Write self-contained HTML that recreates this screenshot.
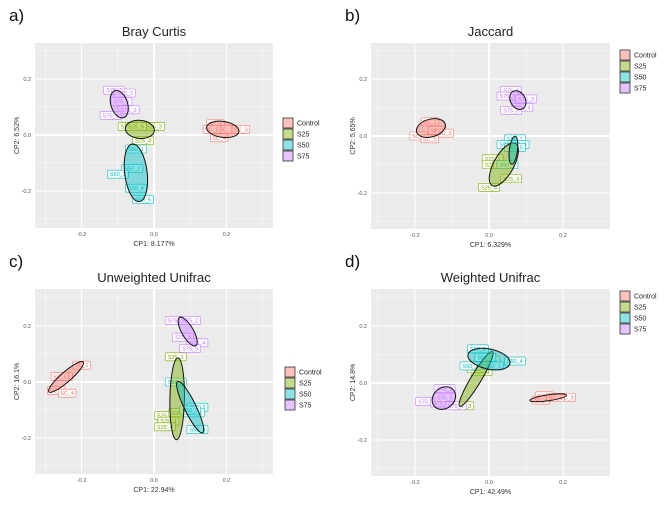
<!DOCTYPE html>
<html><head><meta charset="utf-8"><style>
html,body{margin:0;padding:0;background:#fff;}
svg{display:block;font-family:"Liberation Sans",sans-serif;}
</style></head><body>
<svg id="fig" width="669" height="506" viewBox="0 0 669 506" xmlns="http://www.w3.org/2000/svg"></svg>
<script>
const groups = ["Control","S25","S50","S75"];
const groupColors = ["#F8766D","#7CAE00","#00BFC4","#C77CFF"];
const tickValues = [-0.2,0,0.2];
const tickLabels = ["-0.2","0.0","0.2"];
const panelTitles = ["Bray Curtis","Jaccard","Unweighted Unifrac","Weighted Unifrac"];
const panelLetters = ["a)","b)","c)","d)"];
const xAxisTitles = ["CP1: 8.177%","CP1: 6.329%","CP1: 22.94%","CP1: 42.49%"];
const yAxisTitles = ["CP2: 6.52%","CP2: 5.65%","CP2: 16.1%","CP2: 14.8%"];
// ellipses per panel: [cx, cy, semiMajor, semiMinor, angleDeg] per group order
const ellipsesA = [[0.19,0.02,0.045,0.022,8],[-0.039,0.02,0.04,0.025,5],[-0.05,-0.135,0.08,0.031,83],[-0.096,0.11,0.039,0.023,72]];
const ellipsesB = [[-0.157,0.028,0.04,0.024,-15],[0.04,-0.10,0.065,0.027,-61],[0.066,-0.05,0.038,0.011,-83],[0.078,0.126,0.027,0.02,60]];
const ellipsesC = [[-0.243,0.018,0.063,0.014,-41],[0.064,-0.06,0.113,0.02,91],[0.1,-0.09,0.079,0.016,64],[0.093,0.18,0.045,0.016,60]];
const ellipsesD = [[0.16,-0.052,0.05,0.008,-8],[-0.035,0.014,0.086,0.014,-59],[0.0,0.084,0.058,0.027,12],[-0.122,-0.053,0.034,0.028,-40]];
// sample points per panel per group: [x,y]
const pointsA = [[[0.17,0.04],[0.2,0.02],[0.24,0.02],[0.18,-0.01],[0.16,0.02]],[[-0.07,0.03],[-0.02,0.03],[0.0,0.03],[-0.03,-0.02],[-0.05,0.03]],[[-0.05,-0.05],[-0.06,-0.12],[-0.1,-0.14],[-0.05,-0.19],[-0.03,-0.23]],[[-0.11,0.16],[-0.08,0.15],[-0.07,0.09],[-0.12,0.07],[-0.09,0.12]]];
const pointsB = [[[-0.16,0.05],[-0.14,0.02],[-0.12,0.01],[-0.19,0.0],[-0.16,-0.01]],[[0.01,-0.08],[0.01,-0.1],[0.06,-0.15],[0.0,-0.18],[0.04,-0.1]],[[0.07,-0.01],[0.05,-0.03],[0.08,-0.03],[0.05,-0.1],[0.07,-0.04]],[[0.06,0.16],[0.05,0.14],[0.1,0.13],[0.09,0.1],[0.06,0.09]]];
const pointsC = [[[-0.2,0.06],[-0.25,0.02],[-0.27,-0.03],[-0.24,-0.04],[-0.26,0.02]],[[0.06,0.09],[0.03,-0.12],[0.04,-0.14],[0.03,-0.16],[0.07,-0.11]],[[0.06,0.0],[0.12,-0.09],[0.11,-0.11],[0.12,-0.17],[0.1,-0.1]],[[0.06,0.22],[0.1,0.22],[0.08,0.16],[0.12,0.14],[0.1,0.12]]];
const pointsD = [[[0.15,-0.045],[0.2,-0.05],[0.21,-0.05],[0.14,-0.06],[0.18,-0.05]],[[-0.02,0.04],[-0.01,0.09],[-0.07,-0.08],[-0.03,0.05],[0.0,0.08]],[[-0.03,0.12],[-0.05,0.06],[0.01,0.06],[0.07,0.077],[-0.01,0.09]],[[-0.12,-0.02],[-0.17,-0.065],[-0.13,-0.07],[-0.09,-0.08],[-0.12,-0.05]]];
const allEllipses=[ellipsesA,ellipsesB,ellipsesC,ellipsesD];
const allPoints=[pointsA,pointsB,pointsC,pointsD];
const panels=[
 {ox:0,oy:0,l:35,r:273,t:43,b:228,x0:154,y0:135,sx:362,sy:280,lx:283,ly:118},
 {ox:0,oy:0,l:371,r:610,t:43,b:229,x0:489,y0:136,sx:370,sy:285,lx:620,ly:50},
 {ox:0,oy:0,l:35,r:273,t:289,b:474,x0:154,y0:382,sx:362,sy:280,lx:285,ly:367},
 {ox:0,oy:0,l:371,r:610,t:289,b:476,x0:489,y0:383,sx:370,sy:285,lx:620,ly:291}];
const NS="http://www.w3.org/2000/svg";
const svg=document.getElementById('fig');
function mk(tag,attrs,parent,txt){const e=document.createElementNS(NS,tag);for(const k in attrs)e.setAttribute(k,attrs[k]);if(txt!==undefined)e.textContent=txt;parent.appendChild(e);return e;}
panels.forEach((p,i)=>{
 const g=mk('g',{},svg);
 
 
 const X=v=>p.x0+v*p.sx, Y=v=>p.y0-v*p.sy;
 const pl=mk('text',{x:p.l-26,y:p.t-22,'font-size':17,fill:'#111'},g,panelLetters[i]);
 
 
 const ti=mk('text',{x:(p.l+p.r)/2,y:p.t-7,'font-size':13,'text-anchor':'middle',fill:'#222'},g,panelTitles[i]);
 
 
 const bg=mk('rect',{x:p.l,y:p.t,width:p.r-p.l,height:p.b-p.t,fill:'#EBEBEB'},g);
 
 
 [-0.3,-0.1,0.1,0.3].forEach(v=>{
  if(X(v)>p.l&&X(v)<p.r)mk('line',{x1:X(v),x2:X(v),y1:p.t,y2:p.b,stroke:'#fff','stroke-width':0.5,opacity:0.8},g);
  if(Y(v)>p.t&&Y(v)<p.b)mk('line',{y1:Y(v),y2:Y(v),x1:p.l,x2:p.r,stroke:'#fff','stroke-width':0.5,opacity:0.8},g);
 });
 tickValues.forEach((v,k)=>{
  const w=v===0?2:1;
  mk('line',{x1:X(v),x2:X(v),y1:p.t,y2:p.b,stroke:'#fff','stroke-width':w},g);
  mk('line',{y1:Y(v),y2:Y(v),x1:p.l,x2:p.r,stroke:'#fff','stroke-width':w},g);
  const tx=mk('text',{x:X(v),y:p.b+8,'font-size':5.5,'text-anchor':'middle',fill:'#555'},g,tickLabels[k]);
  
  
  const ty=mk('text',{x:p.l-4,y:Y(v)+2,'font-size':5.5,'text-anchor':'end',fill:'#555'},g,tickLabels[k]);
  
  
 });
 const xt=mk('text',{x:(p.l+p.r)/2,y:p.b+18,'font-size':7,'text-anchor':'middle',fill:'#333'},g,xAxisTitles[i]);
 
 
 const yt=mk('text',{x:0,y:0,'font-size':7,'text-anchor':'middle',fill:'#333',transform:`translate(${p.l-16},${(p.t+p.b)/2}) rotate(-90)`},g,yAxisTitles[i]);
 
 
 // points labels
 allPoints[i].forEach((pts,gi)=>{
  pts.forEach((pt,k)=>{
   const lab=groups[gi]==='Control'?'SC_'+(k+1):groups[gi]+'_'+(k+1);
   const lg=mk('g',{},g);
   
   
   const w=lab.length*3.4+4;
   mk('rect',{x:X(pt[0])-w/2,y:Y(pt[1])-4,width:w,height:8,fill:'#fff','fill-opacity':0.85,stroke:groupColors[gi],'stroke-width':0.6,rx:1},lg);
   mk('text',{x:X(pt[0]),y:Y(pt[1])+2,'font-size':5.5,'text-anchor':'middle',fill:groupColors[gi]},lg,lab);
  });
 });
 allEllipses[i].forEach((e,gi)=>{
  const el=mk('ellipse',{cx:0,cy:0,rx:e[2]*p.sx,ry:e[3]*p.sx,transform:`translate(${X(e[0])},${Y(e[1])}) rotate(${e[4]})`,fill:groupColors[gi],'fill-opacity':0.45,stroke:'#111','stroke-width':1},g);
  
  
 });
 groups.forEach((gn,gi)=>{
  const le=mk('g',{},g);
  
  
  mk('rect',{x:p.lx,y:p.ly+gi*11,width:10,height:10,fill:groupColors[gi],'fill-opacity':0.45,stroke:'#333','stroke-width':0.8},le);
  mk('text',{x:p.lx+14,y:p.ly+gi*11+7.5,'font-size':7,fill:'#222'},le,gn);
 });
});
</script>
</body></html>
